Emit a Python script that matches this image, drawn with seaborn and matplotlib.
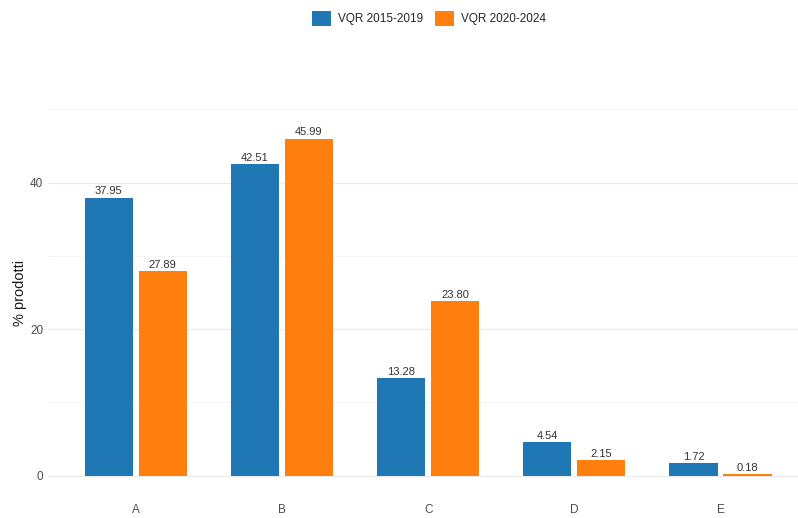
import pandas as pd
import matplotlib.pyplot as plt
import seaborn as sns

################################################################################

categories = ['A', 'B', 'C', 'D', 'E']
vqr_2015_2019 = [37.95, 42.51, 13.28, 4.54, 1.72]
vqr_2020_2024 = [27.89, 45.99, 23.80, 2.15, 0.18]
series_names = ['VQR 2015-2019', 'VQR 2020-2024']
colors = ['#1f77b4', '#ff7f0e']

df = pd.DataFrame({
    'classe': categories * 2,
    'valore': vqr_2015_2019 + vqr_2020_2024,
    'vqr': [series_names[0]] * len(categories) + [series_names[1]] * len(categories),
})

################################################################################

sns.set_theme(style = 'white')
plt.rcParams['font.family'] = ['Liberation Sans', 'DejaVu Sans']

fig = plt.figure(figsize = (7.98, 5.18), dpi = 100)
ax = fig.add_axes([0.0602, 0.0463, 0.9398, 0.7780])

sns.barplot(
    data = df,
    x = 'classe',
    y = 'valore',
    hue = 'vqr',
    palette = colors,
    width = 0.74,
    gap = 0.11,
    saturation = 1,
    linewidth = 0,
    ax = ax
)

# value labels on top of the bars
for container in ax.containers:
    ax.bar_label(container, fmt = '%.2f', padding = 1, fontsize = 8, color = '#333333')

ax.set_xlim(-0.6, 4.53)
ax.set_ylim(-2.5, 52.5)
ax.set_yticks([0, 20, 40])
ax.set_yticks([10, 30, 50], minor = True)

# light grey horizontal grid only, like ggplot theme_minimal
ax.grid(False)
ax.yaxis.grid(True, which = 'major', color = '#ebebeb', linewidth = 0.9)
ax.yaxis.grid(True, which = 'minor', color = '#f2f2f2', linewidth = 0.6)
ax.set_axisbelow(True)
for spine in ax.spines.values():
    spine.set_visible(False)

ax.tick_params(axis = 'x', length = 0, pad = 7, labelsize = 8.5, labelcolor = '#4d4d4d')
ax.tick_params(axis = 'y', which = 'both', length = 0, pad = 3.5, labelsize = 8.5, labelcolor = '#4d4d4d')
ax.set_xlabel('')
ax.set_ylabel('% prodotti', fontsize = 10.5, color = '#1a1a1a', labelpad = 2)

# legend on top, centred over the plot
handles, labels = ax.get_legend_handles_labels()
ax.get_legend().remove()
fig.legend(
    handles, labels,
    loc = 'center', bbox_to_anchor = (0.538, 0.965),
    ncol = 2, frameon = False, fontsize = 8.5,
    handlelength = 1.6, handleheight = 1.6, columnspacing = 1.0, handletextpad = 0.6
)

plt.savefig('out.png', dpi = 100)
